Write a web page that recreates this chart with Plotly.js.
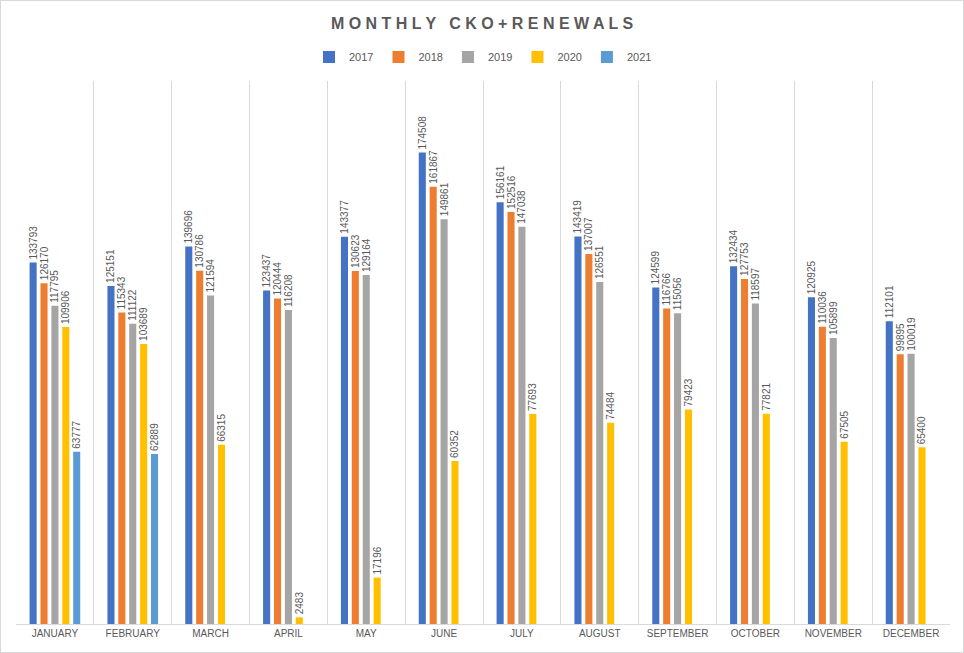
<!DOCTYPE html>
<html>
<head>
<script src="https://cdn.plot.ly/plotly-3.0.1.min.js"></script>
<style>
body { margin: 0; background: #fff; }
#plot { width: 962px; height: 651px; border: 1px solid #d9d9d9; }
</style>
</head>
<body>
<div id="plot"></div>
<script>
const months = ["JANUARY", "FEBRUARY", "MARCH", "APRIL", "MAY", "JUNE", "JULY", "AUGUST", "SEPTEMBER", "OCTOBER", "NOVEMBER", "DECEMBER"];
const years = ["2017", "2018", "2019", "2020", "2021"];
const colors = ["#4472C4", "#ED7D31", "#A5A5A5", "#FFC000", "#5B9BD5"];

const v2017 = [133793, 125151, 139696, 123437, 143377, 174508, 156161, 143419, 124599, 132434, 120925, 112101];
const v2018 = [126170, 115343, 130786, 120444, 130623, 161867, 152516, 137007, 116766, 127753, 110036, 99895];
const v2019 = [117795, 111122, 121594, 116208, 129164, 149861, 147038, 126551, 115056, 118597, 105899, 100019];
const v2020 = [109906, 103689, 66315, 2483, 17196, 60352, 77693, 74484, 79423, 77821, 67505, 65400];
const v2021 = [63777, 62889, null, null, null, null, null, null, null, null, null, null];

const series = [v2017, v2018, v2019, v2020, v2021];

const data = series.map((vals, i) => ({
    type: "bar",
    x: months,
    y: vals,
    name: years[i],
    marker: { color: colors[i] },
    text: vals.map(v => v == null ? "" : String(v)),
    textposition: "outside",
    textangle: -90,
    constraintext: "none",
    textfont: { size: 10, color: "#595959", family: "Liberation Sans, Arial" },
    cliponaxis: false,
    hoverinfo: "x+y+name"
}));

const layout = {
    paper_bgcolor: "#fff",
    plot_bgcolor: "#fff",
    margin: { l: 15, r: 13, t: 80, b: 28 },
    title: {
        text: "<b>M O N T H L Y   C K O + R E N E W A L S</b>",
        x: 0.5, y: 0.966, yanchor: "middle",
        font: { size: 16, color: "#595959", family: "Liberation Sans, Arial" }
    },
    showlegend: true,
    legend: {
        orientation: "h", x: 0.5, xanchor: "center", y: 1.044, yanchor: "middle",
        font: { size: 11, color: "#595959", family: "Liberation Sans, Arial" },
        itemwidth: 30
    },
    barmode: "group",
    bargap: 0.3,
    bargroupgap: 0.35,
    xaxis: {
        tickson: "boundaries",
        showgrid: true,
        gridcolor: "#d9d9d9",
        showline: true,
        linecolor: "#d9d9d9",
        ticks: "",
        tickfont: { size: 10, color: "#595959", family: "Liberation Sans, Arial" }
    },
    yaxis: {
        range: [0, 201000],
        visible: false,
        showgrid: false
    }
};

Plotly.newPlot("plot", data, layout, { displayModeBar: false });
</script>
</body>
</html>
